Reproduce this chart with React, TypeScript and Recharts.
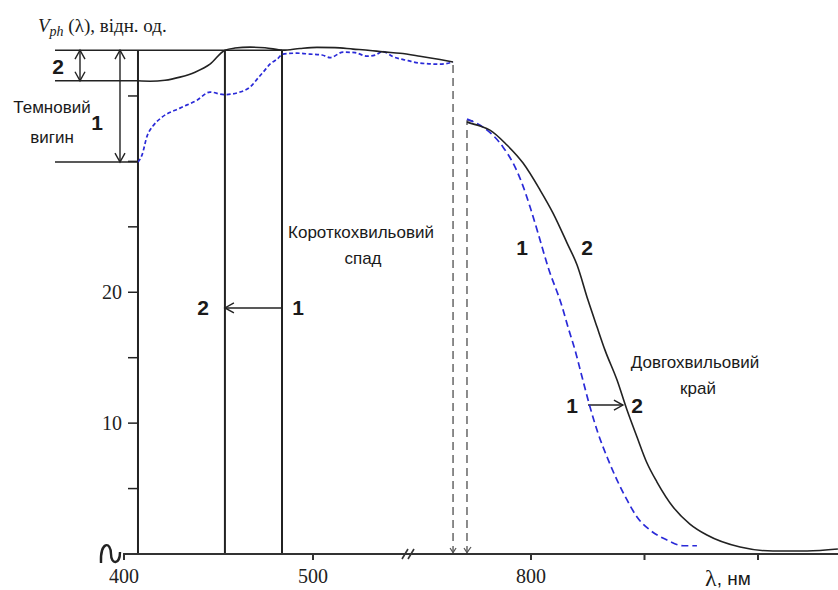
import React from 'react';
import { LineChart, Line, XAxis, YAxis, ReferenceLine, ReferenceDot } from 'recharts';

// [wavelength, nm ; photovoltage V_ph, rel. units]
const curve2Left: [number, number][] = [
  [407.4, 36.16], [413.8, 36.13], [421.7, 36.2], [429.6, 36.44], [437.6, 36.82], [445.5, 37.43],
  [453.4, 38.5], [458.7, 38.66], [466.7, 38.73], [474.6, 38.69], [484.1, 38.5], [493.1, 38.63],
  [502.1, 38.71], [511.6, 38.69], [521.2, 38.58], [530.2, 38.48], [537.0, 38.37], [546.0, 38.27],
  [556.6, 38.04], [567.2, 37.78], [574.1, 37.59],
];
const curve1Left: [number, number][] = [
  [407.4, 29.95], [409.5, 30.48], [412.2, 31.93], [415.3, 32.7], [420.1, 33.38], [429.6, 34.07],
  [438.6, 34.68], [445.5, 35.3], [452.9, 35.1], [461.4, 35.3], [466.7, 35.68], [470.9, 36.36],
  [474.1, 36.9], [477.2, 37.43], [481.0, 37.81], [484.1, 38.2], [491.5, 38.27], [498.4, 38.2],
  [504.8, 38.13], [509.0, 37.93], [515.9, 38.35], [522.2, 38.31], [528.6, 38.04], [532.8, 38.12],
  [537.0, 38.39], [542.3, 38.0], [550.3, 37.7], [556.6, 37.51], [567.2, 37.43], [574.1, 37.59],
];
const curve2Right: [number, number][] = [
  [771.8, 33.0], [777.5, 32.7], [781.9, 32.39], [789.4, 31.25], [796.5, 29.87], [804.0, 27.81],
  [809.7, 26.05], [815.9, 23.76], [820.3, 22.08], [825.1, 19.4], [829.1, 17.34], [832.6, 15.58],
  [837.9, 13.29], [842.3, 11.0], [846.7, 8.94], [851.1, 6.95], [855.5, 5.5], [862.6, 3.59],
  [870.0, 2.29], [877.5, 1.45], [892.1, 0.53], [906.6, 0.23], [921.6, 0.23], [935.2, 0.38],
];
const curve1Right: [number, number][] = [
  [771.8, 33.23], [778.9, 32.62], [787.7, 31.09], [792.1, 29.87], [796.0, 28.34], [799.6, 26.51],
  [803.1, 24.52], [807.5, 21.93], [813.7, 18.9], [816.3, 17.34], [819.4, 15.58], [822.5, 13.52],
  [826.0, 11.23], [829.5, 9.24], [833.5, 7.41], [837.9, 5.65], [842.3, 4.13], [846.7, 2.83],
  [852.4, 1.83], [859.9, 1.07], [867.0, 0.63], [873.1, 0.63],
];

const xTicksNm = [400, 500, 800, 850, 900];
const xTickLabels = ['400', '500', '800', '', ''];
const yTicks = [5, 10, 15, 20, 25, 30, 35];
const yTickLabels = ['', '10', '', '20', '', '', ''];

// key wavelengths / levels of the scheme
const START_NM = 407.4;
const LINE2_NM = 453.4;
const LINE1_NM = 483.6;
const LEFT_END_NM = 574.1;
const RIGHT_START_NM = 771.8;
const TOP_LEVEL = 38.5;
const DARK2_LEVEL = 36.16;
const DARK1_LEVEL = 29.95;
const SHORT_ARROW_V = 18.8;
const LONG_ARROW_V = 11.38;
const LONG_ARROW_FROM = 825.1;
const LONG_ARROW_TO = 840.5;

// layout
const W = 838;
const H = 590;
const MARGIN_LEFT = 83;
const Y_AXIS_W = 40;
const PLOT_LEFT = MARGIN_LEFT + Y_AXIS_W;
const X_AXIS_H = 36;
const PLOT_TOP = 41;
const X_MAX = W - PLOT_LEFT; // 1 axis unit = 1 px
const Y_MAX = 39.2;

// broken wavelength axis: two linear pieces
const toU = (nm: number) => (nm < 700 ? 1 + (nm - 400) * 1.89 : 408 + (nm - 800) * 2.27);
const toRows = (arr: [number, number][]) => arr.map(([nm, v]) => ({ u: toU(nm), v }));

const AXIS_PX = PLOT_LEFT + toU(START_NM);

const SANS = '"Liberation Sans", Arial, sans-serif';
const SERIF = '"Liberation Serif", "Times New Roman", serif';
const INK = '#222';
const BLUE = '#2a2ad8';

const YTick = (p: any) => {
  const i = yTicks.indexOf(p.payload.value);
  const lab = i >= 0 ? yTickLabels[i] : '';
  return (
    <g>
      <line x1={AXIS_PX - 10} x2={AXIS_PX} y1={p.y} y2={p.y} stroke={INK} strokeWidth={1.5} />
      {lab ? (
        <text x={AXIS_PX - 16} y={p.y} textAnchor="end" dominantBaseline="central" fontFamily={SERIF} fontSize={20} fill="#222">
          {lab}
        </text>
      ) : null}
    </g>
  );
};

const headPath = (xa: number, ya: number, xb: number, yb: number, L = 9, Wd = 5) => {
  const a = Math.atan2(yb - ya, xb - xa);
  const bx = xb - L * Math.cos(a);
  const by = yb - L * Math.sin(a);
  const nx = -Math.sin(a) * Wd;
  const ny = Math.cos(a) * Wd;
  return `M${bx + nx},${by + ny} L${xb},${yb} L${bx - nx},${by - ny}`;
};

const arrowShape = (both: boolean) => (p: any) => {
  const { x1, y1, x2, y2 } = p;
  return (
    <g>
      <line x1={x1} y1={y1} x2={x2} y2={y2} stroke={INK} strokeWidth={1.4} />
      <path d={headPath(x1, y1, x2, y2) + (both ? ' ' + headPath(x2, y2, x1, y1) : '')} fill="none" stroke={INK} strokeWidth={1.4} />
    </g>
  );
};

const txt = (
  key: string,
  u: number,
  v: number,
  content: React.ReactNode,
  o: { size?: number; bold?: boolean; family?: string; anchor?: string; base?: string } = {}
) => (
  <ReferenceDot
    key={key}
    x={u}
    y={v}
    r={0}
    ifOverflow="visible"
    shape={(p: any) => (
      <text
        x={p.cx}
        y={p.cy}
        textAnchor={o.anchor || 'middle'}
        dominantBaseline={o.base || 'central'}
        fontFamily={o.family || SANS}
        fontSize={o.size || 17}
        fontWeight={o.bold ? 'bold' : 'normal'}
        fill="#1a1a1a"
      >
        {content}
      </text>
    )}
  />
);

const seg = (key: string, a: [number, number], b: [number, number], extra: any = {}) => (
  <ReferenceLine
    key={key}
    segment={[{ x: a[0], y: a[1] }, { x: b[0], y: b[1] }]}
    ifOverflow="visible"
    stroke={INK}
    strokeWidth={1.5}
    {...extra}
  />
);

const breakSymbol = (p: any) => {
  const x = p.cx;
  const y = p.cy;
  return (
    <path
      d={`M${x - 10},${y + 9} C${x - 11},${y - 13} ${x},${y - 13} ${x},${y} C${x},${y + 11} ${x + 9},${y + 11} ${x + 9},${y - 2}`}
      fill="none"
      stroke={INK}
      strokeWidth={2.4}
    />
  );
};

export default function App() {
  const l2 = toRows(curve2Left);
  const l1 = toRows(curve1Left);
  const r2 = toRows(curve2Right);
  const r1 = toRows(curve1Right);
  const uStart = toU(START_NM);
  const uL2 = toU(LINE2_NM);
  const uL1 = toU(LINE1_NM);
  const uLE = toU(LEFT_END_NM);
  const uRS = toU(RIGHT_START_NM);
  const uBreak = 286;
  const unitPx = (H - X_AXIS_H - PLOT_TOP) / Y_MAX;
  const dv = 5 / unitPx; // ~5 px in value units

  return (
    <div style={{ position: 'absolute', left: 0, top: 0, width: W, height: H, background: '#fff' }}>
      <LineChart width={W} height={H} margin={{ top: PLOT_TOP, right: 0, bottom: 0, left: MARGIN_LEFT }}>
        <XAxis
          dataKey="u"
          type="number"
          domain={[0, X_MAX]}
          allowDataOverflow
          ticks={xTicksNm.map(toU)}
          tickFormatter={(_v: number, i: number) => xTickLabels[i]}
          height={X_AXIS_H}
          stroke="#333"
          strokeWidth={2}
          tickSize={6}
          tickMargin={9}
          tick={{ fontFamily: SERIF, fontSize: 20, fill: '#222' }}
          interval={0}
        />
        <YAxis
          type="number"
          domain={[0, Y_MAX]}
          allowDataOverflow
          ticks={yTicks}
          width={Y_AXIS_W}
          axisLine={false}
          tickLine={false}
          tick={YTick}
          interval={0}
        />

        {/* y axis line / start of data */}
        {seg('yaxis', [uStart, 0], [uStart, TOP_LEVEL], { strokeWidth: 2 })}
        {/* short-wave boundaries */}
        {seg('v2', [uL2, 0], [uL2, TOP_LEVEL], { strokeWidth: 2 })}
        {seg('v1', [uL1, 0], [uL1, TOP_LEVEL], { strokeWidth: 2 })}
        {/* break dashed lines */}
        {seg('d1', [uLE, 0], [uLE, curve2Left[curve2Left.length - 1][1]], { stroke: '#666', strokeDasharray: '8 5' })}
        {seg('d2', [uRS, 0], [uRS, 33.15], { stroke: '#666', strokeDasharray: '8 5' })}
        {seg('d2t', [uRS, 33.1], [uRS + 6, 33.1], { stroke: '#555', strokeWidth: 1.2 })}
        {seg('v1a', [uLE - 3, dv * 1.2], [uLE, 0.1], { stroke: '#555', strokeWidth: 1.2 })}
        {seg('v1b', [uLE + 3, dv * 1.2], [uLE, 0.1], { stroke: '#555', strokeWidth: 1.2 })}
        {seg('v2a', [uRS - 3, dv * 1.2], [uRS, 0.1], { stroke: '#555', strokeWidth: 1.2 })}
        {seg('v2b', [uRS + 4, dv * 1.4], [uRS, 0.1], { stroke: '#555', strokeWidth: 1.2 })}
        {/* x-axis break marks */}
        {seg('b1', [uBreak - 7, -dv], [uBreak - 1, dv], { stroke: '#333', strokeWidth: 1.6 })}
        {seg('b2', [uBreak - 1, -dv], [uBreak + 5, dv], { stroke: '#333', strokeWidth: 1.6 })}

        {/* dark bending dimension lines */}
        {seg('h0', [-68, TOP_LEVEL], [uL1, TOP_LEVEL])}
        {seg('h2', [-68, DARK2_LEVEL], [uStart, DARK2_LEVEL])}
        {seg('h1', [-68, DARK1_LEVEL], [uStart, DARK1_LEVEL])}
        {seg('a2', [-43, TOP_LEVEL], [-43, DARK2_LEVEL], { shape: arrowShape(true) })}
        {seg('a1', [-3, TOP_LEVEL], [-3, DARK1_LEVEL], { shape: arrowShape(true) })}

        {/* shift arrows */}
        {seg('sa', [uL1, SHORT_ARROW_V], [uL2, SHORT_ARROW_V], { shape: arrowShape(false) })}
        {seg('la', [toU(LONG_ARROW_FROM), LONG_ARROW_V], [toU(LONG_ARROW_TO), LONG_ARROW_V], { shape: arrowShape(false) })}

        <Line data={l1} dataKey="v" type="monotone" stroke={BLUE} strokeWidth={1.7} strokeDasharray="4 2.5" dot={false} isAnimationActive={false} />
        <Line data={r1} dataKey="v" type="monotone" stroke={BLUE} strokeWidth={1.7} strokeDasharray="7 4" dot={false} isAnimationActive={false} />
        <Line data={l2} dataKey="v" type="monotone" stroke={INK} strokeWidth={1.6} dot={false} isAnimationActive={false} />
        <Line data={r2} dataKey="v" type="monotone" stroke={INK} strokeWidth={1.6} dot={false} isAnimationActive={false} />

        {/* axis break symbol at origin */}
        <ReferenceDot x={-12} y={0} r={0} ifOverflow="visible" shape={breakSymbol} />

        {/* texts */}
        {txt('title', -85, 39.88, (
          <>
            <tspan fontStyle="italic">V</tspan>
            <tspan fontStyle="italic" fontSize={14} dy={4}>ph</tspan>
            <tspan dy={-4}> (λ), відн. од.</tspan>
          </>
        ), { family: SERIF, size: 19, anchor: 'start', base: 'alphabetic' })}
        {txt('n2a', -65, 37.28, '2', { bold: true, size: 21 })}
        {txt('n1a', -26, 33.0, '1', { bold: true, size: 21 })}
        {txt('dark1', -71, 34.15, 'Темновий', { size: 17 })}
        {txt('dark2', -71, 31.86, 'вигин', { size: 17 })}
        {txt('sw1', 238, 24.6, 'Короткохвильовий', { size: 17 })}
        {txt('sw2', 240, 22.6, 'спад', { size: 17 })}
        {txt('n2b', 80, SHORT_ARROW_V, '2', { bold: true, size: 21 })}
        {txt('n1b', 175, SHORT_ARROW_V, '1', { bold: true, size: 21 })}
        {txt('n1c', 399, 23.4, '1', { bold: true, size: 21 })}
        {txt('n2c', 464, 23.45, '2', { bold: true, size: 21 })}
        {txt('lw1', 572, 14.67, 'Довгохвильовий', { size: 17 })}
        {txt('lw2', 575, 12.68, 'край', { size: 17 })}
        {txt('n1d', 449, LONG_ARROW_V, '1', { bold: true, size: 21 })}
        {txt('n2d', 514, LONG_ARROW_V, '2', { bold: true, size: 21 })}
        {txt('xl', 582, -1.85, (
          <>
            <tspan fontFamily={SERIF} fontSize={24}>λ</tspan>
            <tspan fontSize={19}>, нм</tspan>
          </>
        ), { anchor: 'start', base: 'central' })}
      </LineChart>
    </div>
  );
}
